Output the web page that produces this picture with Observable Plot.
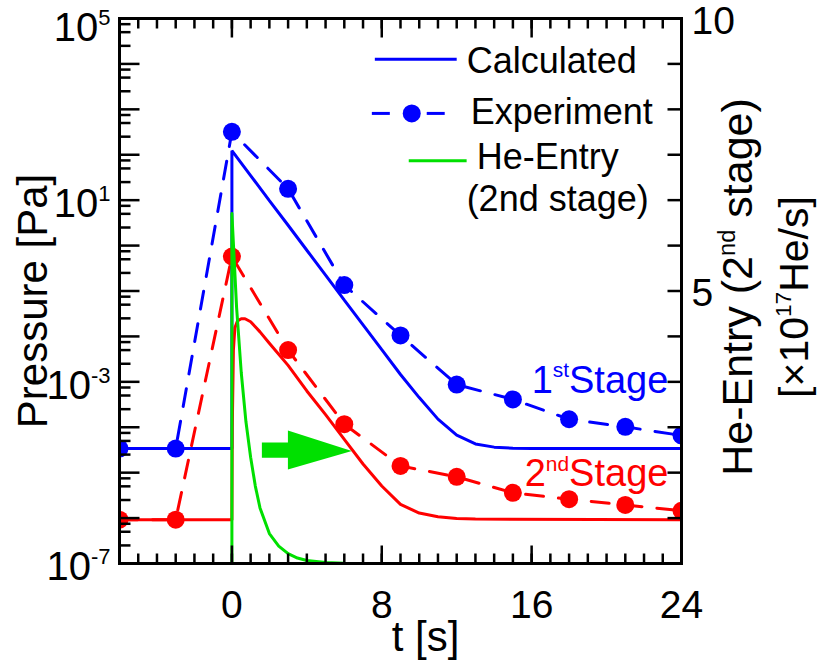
<!DOCTYPE html>
<html><head><meta charset="utf-8">
<script src="https://cdn.jsdelivr.net/npm/d3@7"></script>
<script src="https://cdn.jsdelivr.net/npm/@observablehq/plot@0.6"></script>
<style>html,body{margin:0;padding:0;background:#fff}#chart{width:819px;height:662px;position:relative}#chart>svg{position:absolute;left:0;top:0}</style>
</head><body><div id="chart"></div>
<script>
const FONT = "'Liberation Sans', Arial, Helvetica, sans-serif";
const BLUE = "#0000ff", RED = "#ff0000", GREEN = "#00e000";

// Experiment (dots + dashed line)
const expTimes = [-6, -3, 0, 3, 6, 9, 12, 15, 18, 21, 24];
const exp1st = [3.4e-5, 3.4e-5, 3.2e2, 17.8, 0.135, 1.05e-2, 8.7e-4, 4.1e-4, 1.5e-4, 1.02e-4, 6.6e-5];
const exp2nd = [9.2e-7, 9.2e-7, 0.575, 5.0e-3, 1.17e-4, 1.41e-5, 8.1e-6, 3.6e-6, 2.6e-6, 1.95e-6, 1.45e-6];

// Calculated (solid)
const calc1stT = [-6, 0, 0, 1, 2, 3, 4, 5, 6, 7, 8, 9, 10, 11, 12, 13, 14, 15, 16, 24];
const calc1stP = [3.4e-5, 3.4e-5, 123, 34.7, 9.8, 2.8, 0.79, 0.224, 0.063, 0.018, 5.1e-3, 1.45e-3, 4.5e-4, 1.51e-4, 6.7e-5, 4.3e-5, 3.65e-5, 3.46e-5, 3.42e-5, 3.4e-5];
const calc2ndT = [-6, 0, 0.02, 0.08, 0.16, 0.3, 0.5, 0.7, 1, 1.5, 2, 3, 4, 5, 6, 7, 8, 9, 10, 11, 12, 13, 24];
const calc2ndP = [9.2e-7, 9.2e-7, 1e-4, 5e-3, 1.55e-2, 2.2e-2, 2.45e-2, 2.45e-2, 2.1e-2, 1.26e-2, 7.1e-3, 2.3e-3, 6.3e-4, 1.9e-4, 5.4e-5, 1.55e-5, 5.1e-6, 2.0e-6, 1.29e-6, 1.07e-6, 9.8e-7, 9.5e-7, 9.2e-7];

// He-Entry (2nd stage), right axis, ×10^17 He/s
const heT = [0, 0, 0.25, 0.5, 0.75, 1, 1.25, 1.5, 2, 2.5, 3, 3.5, 4, 5, 6];
const heV = [0, 6.42, 4.7, 3.5, 2.6, 1.95, 1.42, 1.02, 0.55, 0.32, 0.18, 0.1, 0.055, 0.018, 0.005];

// Arrow annotation (t, Pa)
const arrowT = [1.6, 2.99, 2.99, 6.4, 2.99, 2.99, 1.6];
const arrowP = [4.6e-5, 4.6e-5, 8.5e-5, 3.0e-5, 1.17e-5, 2.14e-5, 2.14e-5];

// Axis ticks / labels
const xMinorTicks = [-5,-4,-3,-2,-1,0,1,2,3,4,5,6,7,8,9,10,11,12,13,14,15,16,17,18,19,20,21,22,23];
const xMajorTicks = [0, 8, 16];
const xLabelValues = [0, 8, 16, 24];
const yDecades = [1e-7,1e-6,1e-5,1e-4,1e-3,1e-2,1e-1,1,1e1,1e2,1e3,1e4,1e5];
const yMinorMantissas = [2.5, 5, 7.5];
const yLabelValues = [1e5, 1e1, 1e-3, 1e-7];
const yLabelTexts = ["10^{5}", "10^{1}", "10^{-3}", "10^{-7}"];
const heTickValues = [0,0.833,1.667,2.5,3.333,4.167,5,5.833,6.667,7.5,8.333,9.167,10];
const heLabelValues = [10, 5];

// Legend
const legendLabels = ["Calculated", "Experiment", "He-Entry", "(2nd stage)"];
const legendTextT = [12.53, 12.75, 13.07, 12.53];
const legendTextP = [1.15e4, 871, 89, 10.5];

const X0 = -6, X1 = 24, Y0 = 1e-7, Y1 = 1e5;
const heToP = v => Math.pow(10, -7 + 1.2 * v);
const rows = (T, P) => T.map((t, i) => ({t, p: P[i]}));
const exp1Rows = rows(expTimes, exp1st);
const exp2Rows = rows(expTimes, exp2nd);
const calc1Rows = rows(calc1stT, calc1stP);
const calc2Rows = rows(calc2ndT, calc2ndP);
const heRows = heT.map((t, i) => ({t, p: heToP(heV[i])}));
const arrowRows = rows(arrowT, arrowP);
const yMinor = yDecades.slice(0, -1).flatMap(d => yMinorMantissas.map(m => m * d));
const yLabelRows = yLabelValues.map((v, i) => ({p: v, label: yLabelTexts[i]}));

const W = 819, H = 662, mL = 119, mR = 138, mT = 18, mB = 99;
const PW = W - mL - mR, PH = H - mT - mB;
const dxPx = px => px * (X1 - X0) / PW;
const yUp = (v, px) => v * Math.pow(10, px * 12 / PH);
const yDown = (v, px) => v / Math.pow(10, px * 12 / PH);

const tickSegs = [
  ...yDecades.map(p => ({x1: X0, x2: X0 + dxPx(20), y1: p, y2: p})),
  ...yMinor.map(p => ({x1: X0, x2: X0 + dxPx(11), y1: p, y2: p})),
  ...heTickValues.map(v => ({x1: X1 - dxPx(14), x2: X1, y1: heToP(v), y2: heToP(v)})),
  ...xMinorTicks.map(t => ({x1: t, x2: t, y1: Y0, y2: yUp(Y0, 10)})),
  ...xMajorTicks.map(t => ({x1: t, x2: t, y1: Y0, y2: yUp(Y0, 18)})),
  ...xMinorTicks.map(t => ({x1: t, x2: t, y1: yDown(Y1, 10), y2: Y1})),
  ...xMajorTicks.map(t => ({x1: t, x2: t, y1: yDown(Y1, 19), y2: Y1}))
];

const common = {
  width: W, height: H,
  marginLeft: mL, marginRight: mR, marginTop: mT, marginBottom: mB,
  x: {domain: [X0, X1], axis: null},
  y: {type: "log", domain: [Y0, Y1], axis: null}
};

const chart = Plot.plot({
  ...common,
  style: {fontFamily: FONT, background: "#fff", color: "#000"},
  marks: [
    Plot.line(exp1Rows, {x: "t", y: "p", stroke: BLUE, strokeWidth: 3, strokeDasharray: "18,15", clip: true}),
    Plot.line(exp2Rows, {x: "t", y: "p", stroke: RED, strokeWidth: 3, strokeDasharray: "18,15", clip: true}),
    Plot.line(calc1Rows, {x: "t", y: "p", stroke: BLUE, strokeWidth: 3, strokeLinejoin: "miter"}),
    Plot.line(calc2Rows, {x: "t", y: "p", stroke: RED, strokeWidth: 3}),
    Plot.dot(exp1Rows, {x: "t", y: "p", r: 9, fill: BLUE, clip: true}),
    Plot.dot(exp2Rows, {x: "t", y: "p", r: 9, fill: RED, clip: true}),
    Plot.line(heRows, {x: "t", y: "p", stroke: GREEN, strokeWidth: 3}),
    Plot.line(arrowRows, {x: "t", y: "p", fill: GREEN, stroke: "none"}),
    Plot.link([0], {x1: () => 7.63, x2: () => 12.0, y1: () => 1.26e4, y2: () => 1.26e4, stroke: BLUE, strokeWidth: 3}),
    Plot.link([0, 1], {x1: d => [7.47, 10.4][d], x2: d => [8.43, 11.36][d], y1: () => 813, y2: () => 813, stroke: BLUE, strokeWidth: 3}),
    Plot.dot([0], {x: () => 9.6, y: () => 813, r: 9, fill: BLUE}),
    Plot.link([0], {x1: () => 9.44, x2: () => 12.53, y1: () => 74, y2: () => 74, stroke: GREEN, strokeWidth: 3}),
    Plot.text(legendLabels, {x: (d, i) => legendTextT[i], y: (d, i) => legendTextP[i], text: d => d, textAnchor: "start", lineAnchor: "middle", fontSize: 36, fill: "#000"}),
    Plot.text(["1^{st}Stage"], {x: () => 16.0, y: () => 1.07e-3, text: d => d, textAnchor: "start", lineAnchor: "middle", fontSize: 38, fill: BLUE}),
    Plot.text(["2^{nd}Stage"], {x: () => 15.63, y: () => 9.5e-6, text: d => d, textAnchor: "start", lineAnchor: "middle", fontSize: 38, fill: RED}),
    Plot.frame({stroke: "black", strokeWidth: 3}),
    Plot.text(yLabelRows.slice(0, 1), {y: "p", text: "label", frameAnchor: "left", dx: -9, dy: 10, textAnchor: "end", lineAnchor: "middle", fontSize: 40, fill: "#000"}),
    Plot.text(yLabelRows.slice(1), {y: "p", text: "label", frameAnchor: "left", dx: -9, dy: 4, textAnchor: "end", lineAnchor: "middle", fontSize: 40, fill: "#000"}),
    Plot.text(xLabelValues, {x: d => d, text: d => String(d), frameAnchor: "bottom", dy: 27, lineAnchor: "top", textAnchor: "middle", fontSize: 39, fill: "#000"}),
    Plot.text(heLabelValues, {y: v => heToP(v), text: v => String(v), frameAnchor: "right", dx: 10, dy: 3, textAnchor: "start", lineAnchor: "middle", fontSize: 39, fill: "#000"}),
    Plot.text(["Pressure [Pa]"], {text: d => d, frameAnchor: "left", rotate: -90, dx: -86, dy: 10, textAnchor: "middle", lineAnchor: "middle", fontSize: 42, fill: "#000"}),
    Plot.text(["t [s]"], {text: d => d, frameAnchor: "bottom", dx: 25, dy: 74, textAnchor: "middle", lineAnchor: "middle", fontSize: 42, fill: "#000"}),
    Plot.text(["He-Entry (2^{nd} stage)"], {text: d => d, frameAnchor: "right", rotate: -90, dx: 57, dy: -4, textAnchor: "middle", lineAnchor: "middle", fontSize: 43, fill: "#000"}),
    Plot.text(["[\u00d710^{17}He/s]"], {text: d => d, frameAnchor: "right", rotate: -90, dx: 113, dy: 6, textAnchor: "middle", lineAnchor: "middle", fontSize: 41, fill: "#000"})
  ]
});

// axis ticks, drawn by Plot in a transparent overlay with identical scales
const ticks = Plot.plot({
  ...common,
  style: {background: "transparent", pointerEvents: "none"},
  marks: [
    Plot.link(tickSegs, {x1: "x1", x2: "x2", y1: "y1", y2: "y2", stroke: "black", strokeWidth: 2.5}),
    Plot.frame({stroke: "black", strokeWidth: 3})
  ]
});

const host = document.getElementById("chart");
host.appendChild(chart);
host.appendChild(ticks);

// superscripts: "a^{b}c" -> tspans
(function supify(root) {
  const ns = "http://www.w3.org/2000/svg";
  root.querySelectorAll("text").forEach(t => {
    const s = t.textContent;
    if (!s.includes("^{")) return;
    const fs = parseFloat(getComputedStyle(t).fontSize) || 38;
    const re = /\^\{([^}]*)\}/g;
    const parts = [];
    let last = 0, m;
    while ((m = re.exec(s))) { parts.push([s.slice(last, m.index), false]); parts.push([m[1], true]); last = re.lastIndex; }
    parts.push([s.slice(last), false]);
    while (t.firstChild) t.removeChild(t.firstChild);
    const shift = 0.4 * fs, small = 0.55 * fs;
    let raised = false;
    for (const [txt, sup] of parts) {
      if (!txt) continue;
      const sp = document.createElementNS(ns, "tspan");
      sp.textContent = txt;
      if (sup) {
        sp.setAttribute("font-size", small);
        if (!raised) { sp.setAttribute("dy", -shift); raised = true; }
      } else if (raised) {
        sp.setAttribute("dy", shift); raised = false;
      }
      t.appendChild(sp);
    }
  });
})(chart);
</script>
</body></html>
